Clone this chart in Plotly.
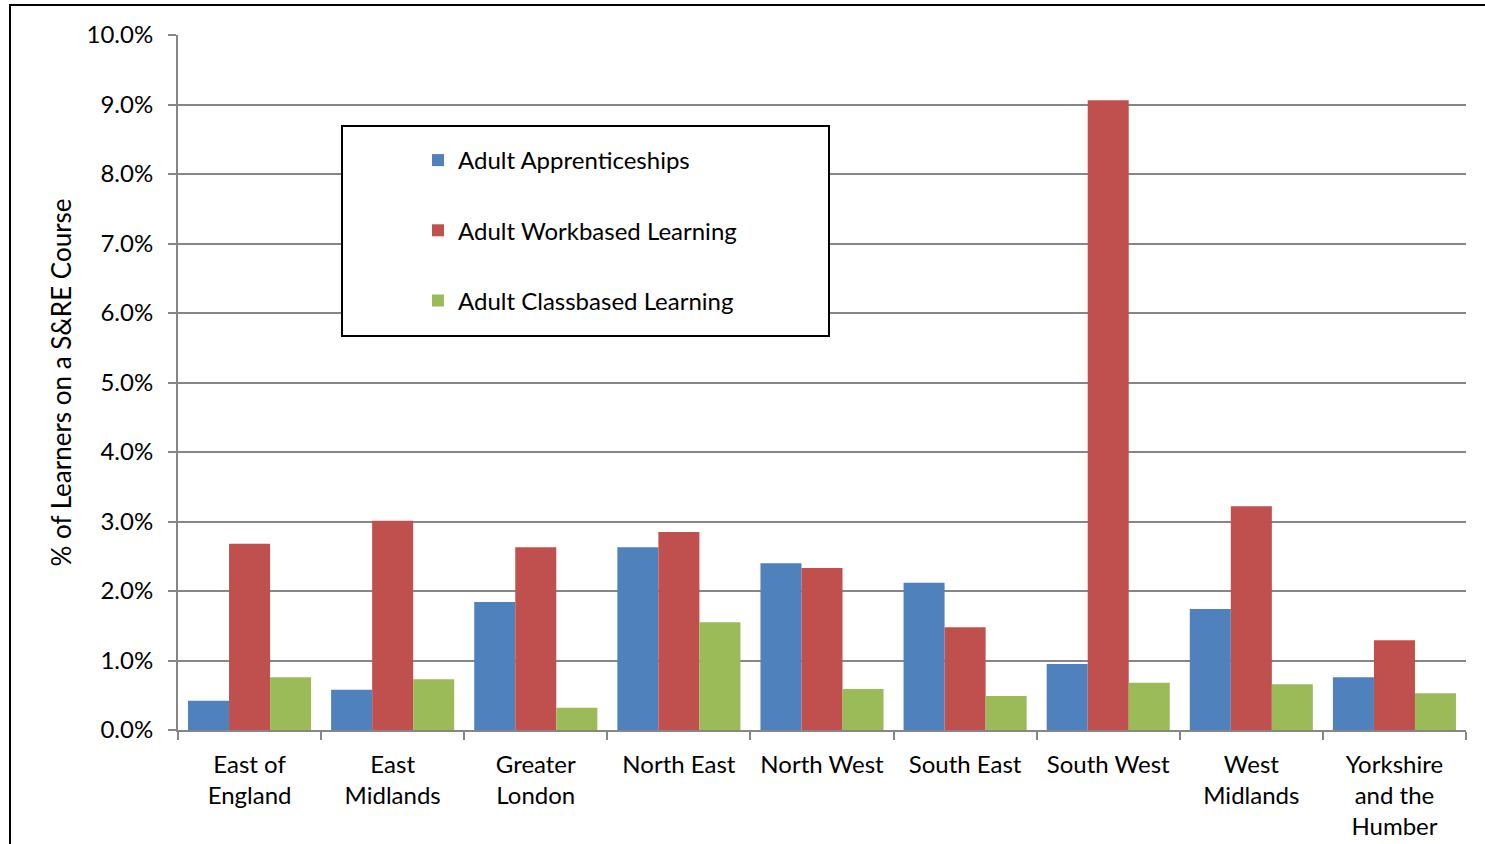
import plotly.graph_objects as go

categories = ["East of England", "East Midlands", "Greater London", "North East",
              "North West", "South East", "South West", "West Midlands",
              "Yorkshire and the Humber"]
tick_labels = ["East of<br>England", "East<br>Midlands", "Greater<br>London", "North East",
               "North West", "South East", "South West", "West<br>Midlands",
               "Yorkshire<br>and the<br>Humber"]
series_names = ["Adult Apprenticeships", "Adult Workbased Learning", "Adult Classbased Learning"]
apprenticeships = [0.0042, 0.0058, 0.0184, 0.0263, 0.0240, 0.0212, 0.0095, 0.0174, 0.0076]
workbased = [0.0268, 0.0301, 0.0263, 0.0285, 0.0233, 0.0148, 0.0906, 0.0322, 0.0129]
classbased = [0.0076, 0.0073, 0.0032, 0.0155, 0.0059, 0.0049, 0.0068, 0.0066, 0.0053]
y_ticks = [0.0, 0.01, 0.02, 0.03, 0.04, 0.05, 0.06, 0.07, 0.08, 0.09, 0.10]
colors = ["#4F81BD", "#C0504D", "#9BBB59"]

W, H = 1485, 844
L, R, T, B = 178, 19, 35, 114
pw, ph = W - L - R, H - T - B

def px_x(x):
    return (x - L) / pw

def px_y(y):
    return (H - B - y) / ph

FONT = "Lato"
FS = 24

fig = go.Figure()
for i, (name, vals) in enumerate(zip(series_names, [apprenticeships, workbased, classbased])):
    fig.add_trace(go.Bar(
        x=categories, y=vals, name=name, legendgroup=f"g{i}",
        marker=dict(color=colors[i], line=dict(width=0)),
    ))

fig.update_layout(
    width=W, height=H,
    margin=dict(l=L, r=R, t=T, b=B, autoexpand=False),
    paper_bgcolor="white", plot_bgcolor="white",
    barmode="group", bargap=0.14, bargroupgap=0,
    font=dict(family=FONT, size=FS, color="black"),
    showlegend=True,
    legend=dict(
        x=px_x(418), y=px_y(138), xanchor="left", yanchor="top",
        bgcolor="rgba(0,0,0,0)", borderwidth=0,
        font=dict(family=FONT, size=FS, color="black"),
        tracegroupgap=36, traceorder="grouped",
    ),
    xaxis=dict(
        type="category",
        tickmode="array", tickvals=categories, ticktext=tick_labels,
        tickson="boundaries", ticks="outside", ticklen=8, tickcolor="#868686", tickwidth=2,
        ticklabelstandoff=12,
        showline=True, linecolor="#868686", linewidth=2,
        showgrid=False, tickfont=dict(family=FONT, size=FS),
        range=[-0.5, 8.5], fixedrange=True,
    ),
    yaxis=dict(
        range=[0, 0.10], tickmode="array", tickvals=y_ticks,
        tickformat=".1%", ticks="outside", ticklen=8, tickcolor="#868686", tickwidth=2,
        ticklabelstandoff=10,
        showline=True, linecolor="#868686", linewidth=2,
        showgrid=True, gridcolor="#868686", gridwidth=2,
        zeroline=False,
        tickfont=dict(family=FONT, size=FS),
        title=dict(text="% of Learners on a S&RE Course", font=dict(family=FONT, size=26), standoff=7),
    ),
    shapes=[
        dict(type="rect", xref="paper", yref="paper",
             x0=px_x(10), x1=px_x(1500), y0=px_y(900), y1=px_y(5),
             line=dict(color="black", width=2), fillcolor="rgba(0,0,0,0)", layer="above"),
        dict(type="rect", xref="paper", yref="paper",
             x0=px_x(342), x1=px_x(829), y0=px_y(336), y1=px_y(126),
             line=dict(color="black", width=2), fillcolor="white", layer="above"),
    ],
)

fig.write_html("out.html", config={"displayModeBar": False},
               post_script="document.body.style.margin='0';")
